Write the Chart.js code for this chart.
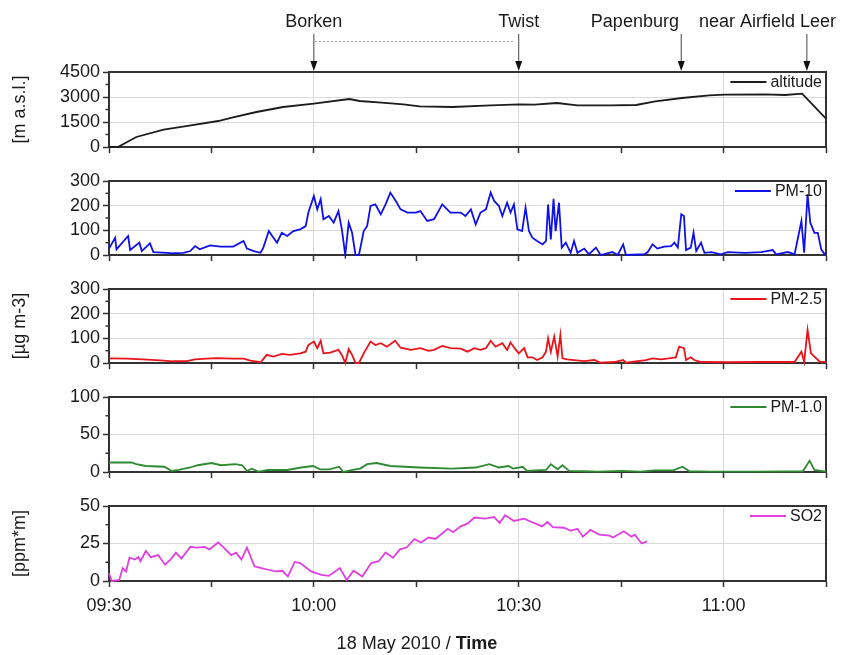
<!DOCTYPE html>
<html>
<head>
<meta charset="utf-8">
<script src="https://cdn.jsdelivr.net/npm/chart.js@4.4.1/dist/chart.umd.min.js"></script>
<style>
  body { margin: 0; background: #fff; }
  #wrap { position: relative; width: 854px; height: 655px; overflow: hidden; }
  #wrap canvas { position: absolute; left: 0; }
</style>
</head>
<body>
<div id="wrap"></div>
<script>
// time is in minutes after 09:30
const altTime = [0, 1.3, 4, 8, 12, 16, 18, 21.6, 25.5, 30, 35.2, 36.7, 39.9, 43.1, 45.5, 50.3, 55.9, 60.1, 62.3, 65.6, 68.6, 73.5, 77.2, 80, 83.9, 87.9, 90.2, 96, 99, 101.5, 105];
const altValues = [0, 0, 600, 1040, 1300, 1560, 1760, 2100, 2400, 2600, 2880, 2760, 2660, 2560, 2440, 2400, 2500, 2560, 2540, 2640, 2500, 2500, 2520, 2740, 2940, 3100, 3140, 3160, 3120, 3200, 1700];

const pm10Time = [0, 0.9, 1.1, 2.8, 3.1, 4.45, 4.8, 6.0, 6.5, 8.5,
  9.4, 10.9, 11.9, 12.6, 13.3, 14.8, 16.3, 18.2, 19.7, 20.2,
  21.2, 22.2, 22.6, 23.4, 23.9, 24.6, 25.3, 26.1, 27.0, 28.0,
  28.8, 29.2, 30.0, 30.5, 31.0, 31.4, 32.2, 32.9, 33.6, 34.1,
  34.6, 35.1, 35.6, 36.1, 36.6, 37.3, 37.8, 38.3, 39.0, 39.8,
  40.5, 41.2, 42.0, 42.7, 43.7, 44.9, 45.6, 46.6, 47.6, 48.8,
  50.0, 51.5, 52.2, 53.0, 53.7, 54.4, 55.2, 55.9, 56.4, 57.1,
  57.6, 58.3, 58.8, 59.3, 59.8, 60.5, 61.0, 61.5, 62.0, 62.7,
  63.5, 64.0, 64.3, 64.7, 65.1, 65.4, 65.9, 66.3, 66.9, 67.6,
  68.1, 68.6, 69.6, 70.3, 71.3, 72.0, 73.7, 74.5, 75.3, 75.7,
  78.4, 78.9, 79.6, 80.3, 81.3, 82.3, 82.8, 83.3, 83.8, 84.2,
  84.5, 85.2, 85.6, 86.0, 86.7, 87.2, 88.2, 89.6, 90.6, 93.1,
  95.5, 97.2, 97.7, 99.4, 100.4, 101.4, 101.8, 102.3, 102.7, 103.3,
  103.8, 104.3, 104.8, 105];
const pm10Values = [26, 70, 23, 77, 20, 50, 16, 47, 12, 9,
  7, 9, 16, 36, 23, 39, 34, 34, 57, 26,
  16, 9, 30, 97, 77, 50, 90, 77, 97, 104,
  117, 172, 239, 185, 226, 145, 158, 131, 178, 104,
  0, 131, 90, 0, 0, 97, 117, 199, 205, 165,
  205, 253, 219, 185, 172, 172, 178, 138, 145, 205,
  172, 172, 158, 185, 124, 172, 185, 253, 219, 199,
  158, 212, 172, 205, 104, 97, 192, 97, 70, 57,
  43, 57, 205, 63, 228, 97, 212, 30, 50, 9,
  57, 9, 26, 3, 30, 0, 12, 0, 43, 0,
  3, 12, 43, 26, 34, 36, 50, 30, 165, 158,
  20, 30, 90, 16, 50, 9, 12, 3, 12, 9,
  12, 20, 3, 12, 3, 138, 9, 246, 131, 90,
  90, 23, 3, 9];

const pm25Time = [0, 2.6, 5.0, 7.5, 9.4, 11.4, 12.6, 14.3, 15.8, 18.2,
  19.7, 20.7, 22.2, 23.1, 24.1, 25.3, 26.5, 28.0, 28.8, 29.2,
  30.0, 30.5, 31.0, 31.4, 32.4, 33.6, 34.1, 34.6, 35.1, 35.6,
  36.1, 36.6, 37.3, 38.3, 39.0, 39.8, 40.7, 41.9, 42.7, 44.2,
  45.6, 46.8, 47.6, 48.8, 50.0, 51.5, 52.5, 53.5, 54.4, 55.2,
  55.9, 56.6, 57.6, 58.3, 58.8, 59.6, 60.0, 60.8, 61.3, 62.0,
  62.7, 63.5, 64.0, 64.3, 64.7, 65.2, 65.7, 66.1, 66.4, 67.1,
  68.1, 69.6, 71.1, 72.0, 74.0, 75.3, 75.7, 78.6, 79.6, 80.8,
  82.0, 83.0, 83.5, 84.2, 84.5, 85.2, 85.7, 86.7, 90.6, 95.5,
  100.4, 101.4, 101.8, 102.3, 102.8, 103.3, 104.1, 105];
const pm25Values = [19, 18, 15, 11, 7, 8, 15, 18, 20, 18,
  18, 10, 3, 33, 26, 37, 33, 39, 46, 73,
  87, 60, 90, 39, 42, 53, 33, 0, 56, 33,
  0, 0, 39, 87, 73, 80, 66, 90, 62, 53,
  60, 49, 53, 69, 60, 58, 46, 60, 53, 60,
  90, 66, 80, 53, 83, 53, 39, 60, 23, 23,
  12, 23, 46, 100, 46, 107, 26, 114, 19, 15,
  12, 8, 12, 1, 4, 12, 1, 12, 19, 15,
  19, 23, 66, 60, 12, 23, 12, 4, 3, 4,
  4, 46, 5, 134, 39, 26, 5, 4];

const pm1Time = [0, 3.3, 4.0, 5.4, 8.1, 9.2, 10.2, 11.9, 13.0, 15.0,
  16.4, 18.5, 19.5, 20.2, 20.9, 21.9, 23.3, 26.1, 28.1, 29.9,
  30.9, 32.3, 33.7, 34.3, 35.7, 36.8, 37.8, 39.2, 41.2, 45.4,
  50.2, 53.7, 55.7, 57.1, 58.5, 59.2, 60.6, 61.2, 64.0, 64.7,
  65.7, 66.4, 67.4, 69.5, 71.6, 75.0, 77.8, 79.9, 82.6, 84.0,
  85.0, 88.1, 95.0, 101.6, 102.6, 103.3, 105];
const pm1Values = [12.7, 12.7, 10.5, 8, 7, 1.4, 2.7, 6, 9, 12,
  9, 10.5, 9, 1.4, 4.5, 0.5, 2.7, 2.7, 6, 8,
  3.6, 3.6, 7, 0, 2.7, 4.5, 10.5, 12, 8, 6,
  4.5, 6, 10.5, 6, 8, 4.5, 7, 1.4, 2.7, 10.5,
  3.6, 9, 1.4, 1, 0.5, 1.4, 0.5, 2.3, 2.3, 7,
  1, 0.5, 0.5, 1, 15, 2.7, 0.5];

const so2Time = [0, 0.4, 1.5, 2.0, 2.5, 3.0, 3.8, 4.3, 4.6, 5.4,
  6.1, 7.2, 8.2, 9.0, 9.8, 10.6, 11.9, 12.9, 14.0, 14.7,
  16.0, 16.8, 17.9, 18.6, 19.4, 20.2, 21.3, 22.3, 23.3, 24.4,
  25.4, 26.2, 27.2, 28.0, 29.6, 31.1, 32.2, 33.8, 34.8, 35.8,
  37.1, 38.4, 39.5, 40.5, 41.6, 42.6, 43.6, 44.7, 45.7, 46.8,
  47.8, 49.6, 50.4, 51.5, 52.5, 53.5, 55.1, 56.4, 57.2, 58.0,
  59.3, 60.8, 61.9, 63.4, 64.2, 65.0, 66.6, 67.6, 68.6, 69.4,
  70.5, 71.8, 73.3, 73.8, 75.4, 76.5, 77.0, 78.0, 78.8];
const so2Values = [5.2, 0, 0.7, 8.6, 6.4, 15.5, 14.3, 15.9, 13.2, 20,
  15.9, 17.3, 10.9, 14.3, 18.9, 15, 22.7, 22.3, 22.7, 21.1,
  25.7, 22.3, 17.3, 18.9, 14.3, 22.3, 9.8, 8.6, 7.5, 6.4,
  6.8, 3, 12.7, 12, 6.4, 4.1, 3.4, 8.6, 0.7, 6.8,
  3, 12, 13.2, 19, 15.5, 21.1, 22.3, 28, 25.7, 29,
  28, 34.8, 32.5, 36.4, 38.2, 42.3, 41.6, 42.7, 38.6, 43.9,
  40, 41.6, 39.3, 36.4, 39.3, 35.9, 35.5, 33.6, 34.8, 29.5,
  34.1, 30.9, 30.2, 29, 33.2, 29.5, 30.9, 25, 26.4];

const sites = ['Borken', 'Twist', 'Papenburg', 'near Airfield Leer'];
const siteTimes = [30, 60, 83.8, 102.2];

const FONT = "'Liberation Sans', Arial, Helvetica, sans-serif";
const INK = '#1a1a1a';
const GRID = '#dadada';
Chart.defaults.font.family = FONT;
Chart.defaults.color = INK;

function clock(v) {
  const m = 570 + v;
  return String(Math.floor(m / 60)).padStart(2, '0') + ':' + String(m % 60).padStart(2, '0');
}

// frame, minor y ticks and the little legend inside each panel
const panelDecor = {
  id: 'panelDecor',
  beforeDatasetsDraw(chart) {
    const { ctx, chartArea: a, scales } = chart;
    const y = scales.y;
    ctx.save();
    ctx.strokeStyle = '#333';
    ctx.lineWidth = 1.5;
    const ticks = y.ticks.map(t => t.value);
    for (let i = 0; i < ticks.length - 1; i++) {
      const py = y.getPixelForValue((ticks[i] + ticks[i + 1]) / 2);
      ctx.beginPath();
      ctx.moveTo(a.left - 3.5, py);
      ctx.lineTo(a.left, py);
      ctx.stroke();
    }
    ctx.lineWidth = 2;
    ctx.strokeRect(a.left, a.top, a.right - a.left, a.bottom - a.top);
    ctx.restore();
  },
  afterDatasetsDraw(chart) {
    const { ctx, chartArea: a } = chart;
    const ds = chart.data.datasets[0];
    ctx.save();
    ctx.font = '16px ' + FONT;
    ctx.fillStyle = INK;
    ctx.textAlign = 'right';
    ctx.textBaseline = 'middle';
    const ty = a.top + 10;
    const tx = a.right - 4;
    ctx.fillText(ds.label, tx, ty + 1);
    const w = ctx.measureText(ds.label).width;
    ctx.strokeStyle = ds.borderColor;
    ctx.lineWidth = 1.8;
    ctx.beginPath();
    ctx.moveTo(tx - w - 40, ty);
    ctx.lineTo(tx - w - 4, ty);
    ctx.stroke();
    ctx.restore();
  }
};

// place names with arrows above the top panel
const siteMarks = {
  id: 'siteMarks',
  afterDraw(chart) {
    const { ctx, chartArea: a, scales } = chart;
    ctx.save();
    ctx.font = '18px ' + FONT;
    const xs = siteTimes.map(t => scales.x.getPixelForValue(t));
    const boxes = sites.map((s, i) => {
      const w = ctx.measureText(s).width;
      return { left: xs[i] - w / 2, w };
    });
    let limit = chart.width - 18;
    for (let i = boxes.length - 1; i >= 0; i--) {
      if (boxes[i].left + boxes[i].w > limit) boxes[i].left = limit - boxes[i].w;
      limit = boxes[i].left - 20;
    }
    ctx.fillStyle = INK;
    ctx.textBaseline = 'middle';
    ctx.textAlign = 'left';
    sites.forEach((s, i) => ctx.fillText(s, boxes[i].left, 22));
    xs.forEach(x => {
      ctx.strokeStyle = '#444';
      ctx.lineWidth = 1;
      ctx.beginPath();
      ctx.moveTo(x, 34);
      ctx.lineTo(x, a.top - 8);
      ctx.stroke();
      ctx.fillStyle = '#111';
      ctx.beginPath();
      ctx.moveTo(x - 3.5, a.top - 11);
      ctx.lineTo(x + 3.5, a.top - 11);
      ctx.lineTo(x, a.top - 1);
      ctx.closePath();
      ctx.fill();
    });
    ctx.strokeStyle = '#9a9a9a';
    ctx.setLineDash([2, 2]);
    ctx.beginPath();
    ctx.moveTo(xs[0] + 1, 41.5);
    ctx.lineTo(xs[1] - 4, 41.5);
    ctx.stroke();
    ctx.restore();
  }
};

// "18 May 2010 / Time" under the bottom panel
const timeTitle = {
  id: 'timeTitle',
  afterDraw(chart) {
    const { ctx } = chart;
    const a = '18 May 2010 / ', b = 'Time';
    ctx.save();
    ctx.textBaseline = 'middle';
    ctx.textAlign = 'left';
    ctx.fillStyle = INK;
    ctx.font = '18px ' + FONT;
    const wa = ctx.measureText(a).width;
    ctx.font = 'bold 18px ' + FONT;
    const wb = ctx.measureText(b).width;
    const x0 = chart.width / 2 - 10 - (wa + wb) / 2;
    const y0 = chart.height - 11;
    ctx.font = '18px ' + FONT;
    ctx.fillText(a, x0, y0);
    ctx.font = 'bold 18px ' + FONT;
    ctx.fillText(b, x0 + wa, y0);
    ctx.restore();
  }
};

const panels = [
  { label: 'altitude', time: altTime, values: altValues, color: '#1c1c1c', max: 4500, step: 1500, title: '[m a.s.l.]', top: 72, h: 75, padTop: 72, axisH: 16 },
  { label: 'PM-10', time: pm10Time, values: pm10Values, color: '#1010e8', max: 300, step: 100, title: '', top: 181, h: 74, padTop: 16, axisH: 16 },
  { label: 'PM-2.5', time: pm25Time, values: pm25Values, color: '#e8141c', max: 300, step: 100, title: '[\u00b5g m-3]', top: 289, h: 74, padTop: 16, axisH: 16 },
  { label: 'PM-1.0', time: pm1Time, values: pm1Values, color: '#2e8a30', max: 100, step: 50, title: '', top: 397, h: 75, padTop: 16, axisH: 16 },
  { label: 'SO2', time: so2Time, values: so2Values, color: '#e03ee0', max: 50, step: 25, title: '[ppm*m]', top: 506, h: 75, padTop: 16, axisH: 74 }
];

const wrap = document.getElementById('wrap');

panels.forEach((p, idx) => {
  const last = idx === panels.length - 1;
  const canvas = document.createElement('canvas');
  canvas.width = 854;
  canvas.height = p.padTop + p.h + p.axisH;
  canvas.style.top = (p.top - p.padTop) + 'px';
  wrap.appendChild(canvas);

  const plugins = [panelDecor];
  if (idx === 0) plugins.push(siteMarks);
  if (last) plugins.push(timeTitle);

  new Chart(canvas.getContext('2d'), {
    type: 'line',
    data: {
      datasets: [{
        label: p.label,
        data: p.time.map((t, i) => ({ x: t, y: p.values[i] })),
        borderColor: p.color,
        borderWidth: 1.8,
        pointRadius: 0,
        tension: 0,
        clip: 4
      }]
    },
    options: {
      responsive: false,
      animation: false,
      layout: { padding: { top: p.padTop, right: 28, bottom: 0, left: 0 } },
      plugins: { legend: { display: false }, tooltip: { enabled: false } },
      scales: {
        x: {
          type: 'linear',
          min: 0,
          max: 105,
          afterFit: s => { s.height = p.axisH; },
          afterBuildTicks: s => {
            s.ticks = [0, 15, 30, 45, 60, 75, 90, 105].map(v => ({ value: v }));
          },
          ticks: {
            display: last,
            autoSkip: false,
            maxRotation: 0,
            padding: 8,
            font: { size: 18 },
            color: INK,
            callback: v => (v % 30 === 0 ? clock(v) : '')
          },
          grid: {
            drawTicks: true,
            tickLength: 6,
            tickColor: '#333',
            tickWidth: 1.5,
            color: c => (c.tick && c.tick.value % 30 === 0 && c.tick.value > 0 && c.tick.value < 105) ? GRID : 'rgba(0,0,0,0)'
          },
          border: { display: true, color: '#333', width: 2 }
        },
        y: {
          min: 0,
          max: p.max,
          afterFit: s => { s.width = 109; },
          ticks: {
            stepSize: p.step,
            padding: 3,
            font: { size: 18 },
            color: INK,
            callback: v => String(v)
          },
          grid: {
            drawTicks: true,
            tickLength: 6,
            tickColor: '#333',
            tickWidth: 1.5,
            color: c => (c.tick && c.tick.value > 0 && c.tick.value < p.max) ? GRID : 'rgba(0,0,0,0)'
          },
          border: { display: true, color: '#333', width: 2 },
          title: {
            display: p.title !== '',
            text: p.title,
            font: { size: 18 },
            color: INK,
            padding: { top: 9, bottom: 0 }
          }
        }
      }
    },
    plugins
  });
});
</script>
</body>
</html>
